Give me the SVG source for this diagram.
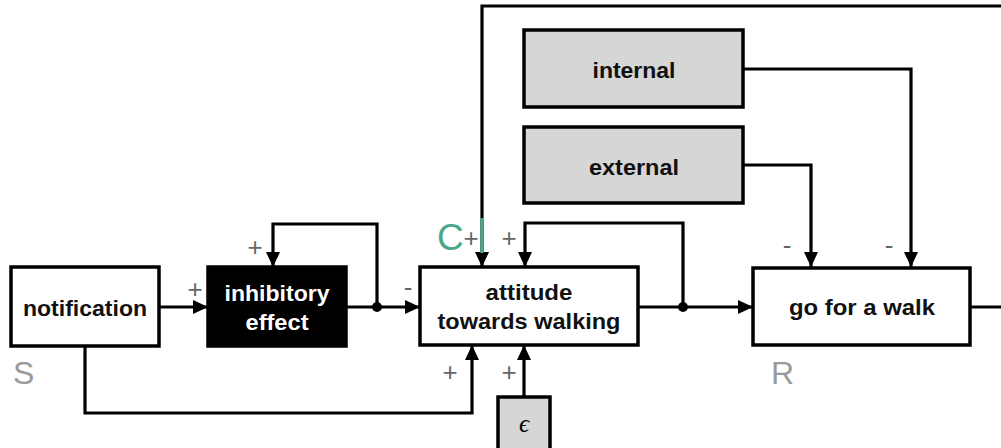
<svg xmlns="http://www.w3.org/2000/svg" width="1001" height="448" viewBox="0 0 1001 448">
<style>
.box{fill:#fff;stroke:#000;stroke-width:3.5}
.dark{fill:#000;stroke:#000;stroke-width:3.5}
.grey{fill:#d6d6d6;stroke:#000;stroke-width:3.5}
.lbl{font-family:"Liberation Sans",Arial,sans-serif;font-size:22px;font-weight:bold;text-anchor:middle;fill:#111}
.sign{font-family:"Liberation Sans",Arial,sans-serif;font-size:26px;text-anchor:middle;fill:#666}
.big{font-family:"Liberation Sans",Arial,sans-serif;font-size:32px;fill:#9a9a9a}
.wire{fill:none;stroke:#000;stroke-width:3.2}
</style>
<defs>
<marker id="arr" markerUnits="userSpaceOnUse" markerWidth="16" markerHeight="14" refX="15" refY="7" orient="auto">
<path d="M0,0 L15,7 L0,14 Z" fill="#000"/>
</marker>
</defs>
<g id="connectors">
<path class="wire" d="M159,307 H208" marker-end="url(#arr)"/>
<path class="wire" d="M346,307 H420" marker-end="url(#arr)"/>
<path class="wire" d="M377,307 V224 H273 V267" marker-end="url(#arr)"/>
<path class="wire" d="M85,346 V413 H472 V345" marker-end="url(#arr)"/>
<path class="wire" d="M524,397 V345" marker-end="url(#arr)"/>
<path class="wire" d="M638,307 H753" marker-end="url(#arr)"/>
<path class="wire" d="M683,307 V223 H525 V267" marker-end="url(#arr)"/>
<path class="wire" d="M1003,6 H482 V267" marker-end="url(#arr)"/>
<path class="wire" d="M970,307 H1003"/>
<path class="wire" d="M743,69 H911 V267" marker-end="url(#arr)"/>
<path class="wire" d="M743,165 H811 V267" marker-end="url(#arr)"/>
<circle cx="377" cy="307" r="5" fill="#000"/>
<circle cx="683" cy="307" r="5" fill="#000"/>
<path d="M482,218 V253" fill="none" stroke="#4aa88a" stroke-width="3.2"/>
</g>
<g id="signs">
<text class="sign" x="195" y="298">+</text>
<text class="sign" x="255" y="256">+</text>
<text class="sign" x="408" y="296">-</text>
<text class="sign" x="471" y="247">+</text>
<text class="sign" x="509" y="247">+</text>
<text class="sign" x="450" y="381">+</text>
<text class="sign" x="509" y="381">+</text>
<text class="sign" x="787" y="254">-</text>
<text class="sign" x="889" y="254">-</text>
</g>
<g id="notification">
<rect class="box" x="11" y="267" width="148" height="79"/>
<text class="lbl" x="85" y="316" textLength="124" lengthAdjust="spacingAndGlyphs">notification</text>
<text class="big" x="13" y="384">S</text>
</g>
<g id="inhibitory">
<rect class="dark" x="208" y="267" width="138" height="79"/>
<text class="lbl" x="277" y="301" style="fill:#fff" textLength="105" lengthAdjust="spacingAndGlyphs">inhibitory</text>
<text class="lbl" x="277" y="330" style="fill:#fff" textLength="63" lengthAdjust="spacingAndGlyphs">effect</text>
</g>
<g id="attitude">
<rect class="box" x="420" y="267" width="218" height="78"/>
<text class="lbl" x="529" y="300" textLength="87" lengthAdjust="spacingAndGlyphs">attitude</text>
<text class="lbl" x="529" y="329" textLength="183" lengthAdjust="spacingAndGlyphs">towards walking</text>
<text x="437" y="250" style="font-family:'Liberation Sans',Arial,sans-serif;font-size:37px;fill:#4aa88a">C</text>
</g>
<g id="walk">
<rect class="box" x="753" y="268" width="217" height="77"/>
<text class="lbl" x="862" y="315" textLength="146" lengthAdjust="spacingAndGlyphs">go for a walk</text>
<text class="big" x="771" y="384">R</text>
</g>
<g id="internal">
<rect class="grey" x="524" y="30" width="219" height="77"/>
<text class="lbl" x="634" y="78" textLength="83" lengthAdjust="spacingAndGlyphs">internal</text>
</g>
<g id="external">
<rect class="grey" x="524" y="127" width="219" height="76"/>
<text class="lbl" x="634" y="175" textLength="90" lengthAdjust="spacingAndGlyphs">external</text>
</g>
<g id="epsilon">
<rect class="grey" x="498" y="397" width="52" height="60"/>
<text x="524" y="432" style="font-family:'Liberation Serif','DejaVu Serif',serif;font-size:25px;font-style:italic;text-anchor:middle;fill:#000">ϵ</text>
</g>
</svg>
